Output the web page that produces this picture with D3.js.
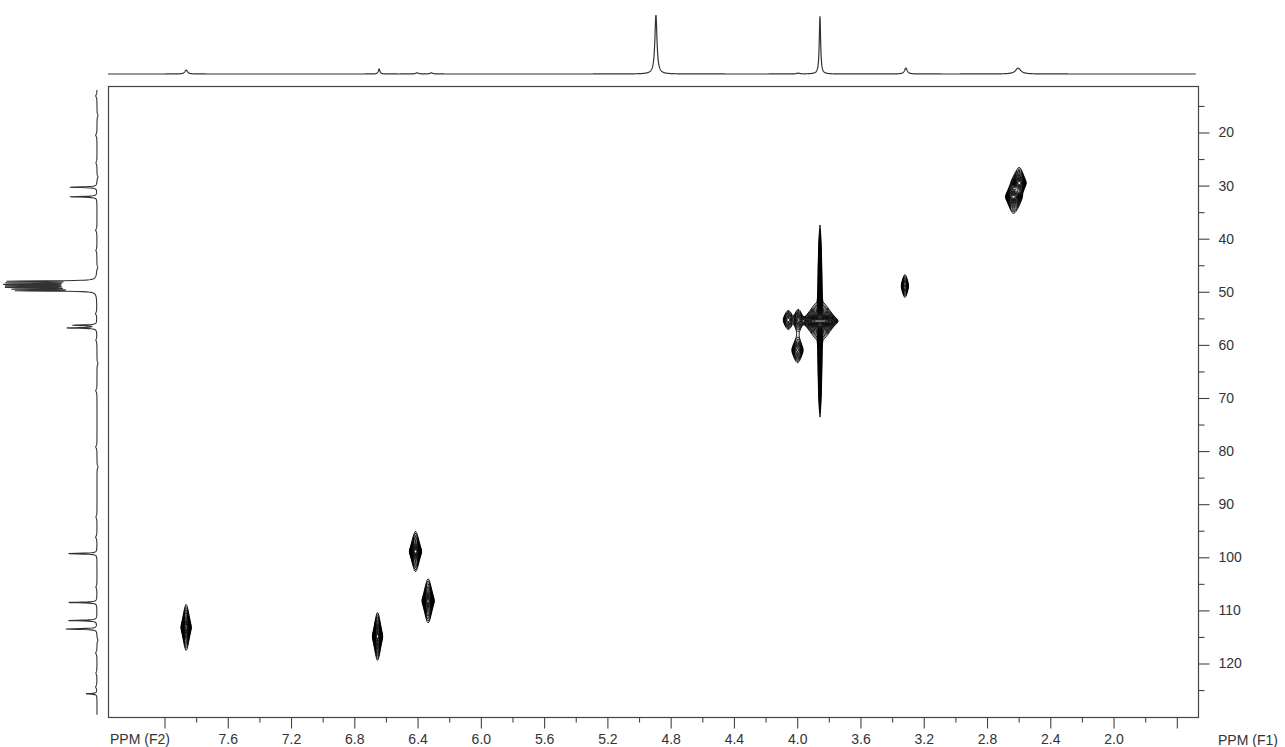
<!DOCTYPE html>
<html><head><meta charset="utf-8">
<script src="https://cdn.jsdelivr.net/npm/d3@7"></script>
<style>body{margin:0;background:#fff}svg{display:block}</style>
</head><body><svg id="c" width="1285" height="747"></svg>
<script>
// ---------- data ----------
const f2Major = [8.0,7.6,7.2,6.8,6.4,6.0,5.6,5.2,4.8,4.4,4.0,3.6,3.2,2.8,2.4,2.0,1.6];
const f2Labels = ["","7.6","7.2","6.8","6.4","6.0","5.6","5.2","4.8","4.4","4.0","3.6","3.2","2.8","2.4","2.0",""];
const f2Minor = [7.8,7.4,7.0,6.6,6.2,5.8,5.4,5.0,4.6,4.2,3.8,3.4,3.0,2.6,2.2,1.8];
const f1Major = [20,30,40,50,60,70,80,90,100,110,120];
const f1Labels = ["20","30","40","50","60","70","80","90","100","110","120"];
const f1Minor = [15,25,35,45,55,65,75,85,95,105,115,125];
const f2Title = "PPM (F2)";
const f1Title = "PPM (F1)";

// cross peaks (HSQC): 1H shift, 13C shift, amplitude, 1H gaussian sd (ppm), 13C width (ppm), 13C line shape
const crossF2  = [7.86, 6.65, 6.41, 6.33, 3.316, 2.592, 2.630, 3.853, 3.853, 4.053, 3.990, 3.995];
const crossF1  = [113.3,115.0, 99.0, 108.3, 49.0, 29.6, 32.2, 55.6, 55.6, 55.4, 55.4, 61.1];
const crossAmp = [40, 40, 40, 40, 8, 22, 26, 60, 10, 6, 8, 8];
const crossSdF2 = [0.0116,0.0116,0.0140,0.0140,0.0109,0.0170,0.0195,0.040,0.0055,0.0167,0.0155,0.0171];
const crossWF1 = [0.695,0.725,0.604,0.665,0.82,0.62,0.62,0.491,8.35,0.80,0.713,0.856];
const crossShapeF1 = ["L","L","L","L","L","L","L","L","G","L","L","L"];

// 1H projection (top): shift, relative height, half width (ppm)
const hShift  = [7.86, 6.64, 6.40, 6.31, 4.89, 3.99, 3.853, 3.31, 2.60];
const hHeight = [0.068,0.085,0.02,0.02,1.0,0.015,0.98,0.10,0.10];
const hWidth  = [0.010,0.006,0.010,0.010,0.008,0.010,0.005,0.010,0.020];

// 13C projection (left): shift, relative height, half width (ppm)
const cShift  = [30.4,32.2,48.1,48.4,48.7,49.0,49.3,49.6,49.9,56.4,56.9,99.4,108.6,112.0,113.6,125.8];
const cHeight = [0.32,0.32,1.0,0.98,0.97,1.0,0.95,0.92,0.9,0.28,0.35,0.34,0.34,0.34,0.37,0.13];
const cWidth  = [0.08,0.08,0.07,0.07,0.07,0.07,0.07,0.07,0.07,0.08,0.08,0.08,0.08,0.08,0.08,0.08];
// small baseline wiggles on the 13C projection
const cNoiseShift  = [13.2,16.9,20.6,25.8,28.5,38.5,42.3,45.5,54.2,59.2,63.6,68.7,79.3,83.1,92.5,96.3,105.7,115.7,118.1,121.9,124.5];
const cNoiseHeight = [0.015,-0.012,0.015,0.012,-0.012,0.015,0.012,-0.012,0.015,0.012,-0.012,0.015,0.015,-0.012,0.012,0.015,0.012,-0.012,0.015,0.012,0.015];

// ---------- layout ----------
const svg = d3.select("#c");
const plot = {left:108, top:86, right:1198, bottom:717};
const x = d3.scaleLinear().domain([8.354, 1.463]).range([plot.left, plot.right]);
const y = d3.scaleLinear().domain([11.34, 130.17]).range([plot.top, plot.bottom]);
const topH = d3.scaleLinear().domain([0,1]).range([74, 15]);
const leftH = d3.scaleLinear().domain([0,1]).range([97, 12]);
const FONT = "'Liberation Sans', Arial, sans-serif";
const AX = "#444";

function spec(p, s, h, w){ let v=0; for(let k=0;k<s.length;k++){const d=(p-s[k])/w[k]; v+=h[k]/(1+d*d);} return v; }

// ---------- top projection ----------
{
  const pts=[]; const p0=x.invert(plot.left), p1=x.invert(plot.right-2);
  for(let p=p0;p>=p1;p-=0.0012) pts.push([x(p), topH(spec(p,hShift,hHeight,hWidth))]);
  svg.append("path").attr("d", d3.line()(pts)).attr("fill","none").attr("stroke","#333").attr("stroke-width",1.2);
}
// ---------- left projection ----------
{
  const pts=[]; const p0=y.invert(90), p1=y.invert(715);
  for(let p=p0;p<=p1;p+=0.035){
    const v = spec(p,cShift,cHeight,cWidth) + spec(p,cNoiseShift,cNoiseHeight,cNoiseShift.map(()=>0.3));
    pts.push([leftH(v), y(p)]);
  }
  svg.append("path").attr("d", d3.line()(pts)).attr("fill","none").attr("stroke","#333").attr("stroke-width",1.1);
}

// ---------- contours ----------
{
  const gx0=plot.left, gy0=plot.top;
  const nx=plot.right-plot.left+1, ny=plot.bottom-plot.top+1;
  const grid=new Float64Array(nx*ny);
  const yp = new Float64Array(ny); for(let j=0;j<ny;j++) yp[j]=y.invert(gy0+j);
  crossF2.forEach((c,k)=>{
    const A=crossAmp[k], sx=crossSdF2[k], wy=crossWF1[k], gauss=crossShapeF1[k]==="G";
    const i0=Math.max(0,Math.floor(x(c+6*sx)-gx0)), i1=Math.min(nx-1,Math.ceil(x(c-6*sx)-gx0));
    const ly=new Float64Array(ny);
    for(let j=0;j<ny;j++){const d=(yp[j]-crossF1[k])/wy; ly[j]= gauss ? Math.exp(-d*d/2) : 1/(1+d*d);}
    for(let i=i0;i<=i1;i++){
      const d=(x.invert(gx0+i)-c)/sx; const g=A*Math.exp(-d*d/2);
      for(let j=0;j<ny;j++) grid[j*nx+i]+=g*ly[j];
    }
  });
  let maxV=0; for(const v of grid) if(v>maxV) maxV=v;
  const thresholds=d3.range(0,40).map(k=>Math.pow(1.2,k)).filter(t=>t<maxV);
  const cs=d3.contours().size([nx,ny]).thresholds(thresholds)(grid);
  svg.append("g").attr("transform",`translate(${gx0-0.5},${gy0-0.5})`)
    .selectAll("path").data(cs).join("path")
    .attr("d", d3.geoPath()).attr("fill","none").attr("stroke","#000").attr("stroke-width",0.85);
}

// ---------- frame ----------
svg.append("rect").attr("x",plot.left+0.5).attr("y",plot.top+0.5)
  .attr("width",plot.right-plot.left).attr("height",plot.bottom-plot.top)
  .attr("fill","none").attr("stroke",AX).attr("stroke-width",1.2);

// ---------- axes ----------
const bx = svg.append("g").attr("transform",`translate(0.5,${plot.bottom+0.5})`)
  .call(d3.axisBottom(x).tickValues(f2Major).tickSize(11).tickPadding(6).tickFormat((d,i)=>f2Labels[i]));
const bxm = svg.append("g").attr("transform",`translate(0.5,${plot.bottom+0.5})`)
  .call(d3.axisBottom(x).tickValues(f2Minor).tickSize(5).tickFormat(""));
const ry = svg.append("g").attr("transform",`translate(${plot.right+0.5},0.5)`)
  .call(d3.axisRight(y).tickValues(f1Major).tickSize(11).tickPadding(9).tickFormat((d,i)=>f1Labels[i]));
const rym = svg.append("g").attr("transform",`translate(${plot.right+0.5},0.5)`)
  .call(d3.axisRight(y).tickValues(f1Minor).tickSize(6).tickFormat(""));
[bx,bxm,ry,rym].forEach(g=>{
  g.select(".domain").remove();
  g.selectAll("line").attr("stroke",AX).attr("stroke-width",1.1);
  g.selectAll("text").attr("fill","#333").style("font-family",FONT).style("font-size","14px");
});

svg.append("text").attr("x",110).attr("y",744).text(f2Title)
  .attr("fill","#333").style("font-family",FONT).style("font-size","14px");
svg.append("text").attr("x",1218).attr("y",745).text(f1Title)
  .attr("fill","#333").style("font-family",FONT).style("font-size","14px");
</script>
</body></html>
